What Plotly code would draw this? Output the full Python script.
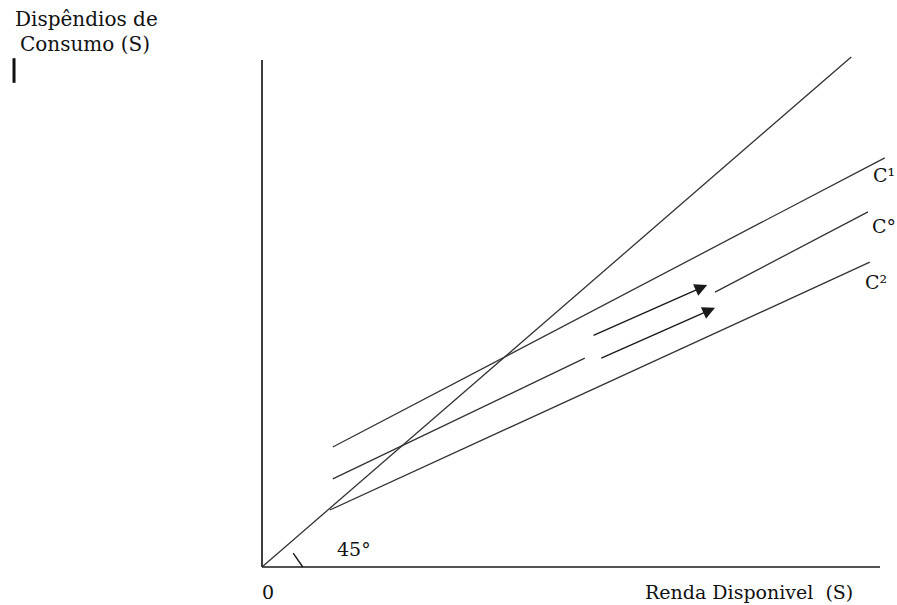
import plotly.graph_objects as go

# ---- data (arbitrary income / consumption units) ----
axis_x_end = 103.0
axis_y_end = 84.5

line45_x = [0.0, 98.2]
line45_y = [0.0, 85.0]

c1_x = [11.8, 103.8]
c1_y = [20.0, 68.2]

c0a_x = [11.8, 53.8]
c0a_y = [14.7, 34.8]
c0b_x = [75.5, 101.0]
c0b_y = [45.8, 59.2]

c2_x = [11.3, 101.3]
c2_y = [9.5, 50.8]

arrow1_tail = (55.0, 38.5)
arrow1_head = (74.2, 47.0)
arrow2_tail = (56.3, 34.7)
arrow2_head = (75.5, 43.2)

angle_x = [5.2, 6.8]
angle_y = [2.3, 0.0]

cursor_x = [-41.33, -41.33]
cursor_y = [84.8, 80.7]

curve_labels = ["C¹", "C°", "C²"]
curve_label_x = [101.5, 101.33, 100.17]
curve_label_y = [65.3, 56.8, 47.5]

FONT = "DejaVu Serif"
LINE = "#333333"

fig = go.Figure()

def seg(x, y, color=LINE, width=1.3):
    fig.add_trace(go.Scatter(x=x, y=y, mode="lines",
                             line=dict(color=color, width=width),
                             hoverinfo="skip", showlegend=False))

# axes
seg([0, axis_x_end], [0, 0], "#1a1a1a", 1.7)
seg([0, 0], [0, axis_y_end], "#1a1a1a", 1.7)
# 45 degree line
seg(line45_x, line45_y)
# consumption functions
seg(c1_x, c1_y)
seg(c0a_x, c0a_y)
seg(c0b_x, c0b_y)
seg(c2_x, c2_y)
# angle mark
seg(angle_x, angle_y, "#1a1a1a", 1.4)
# text cursor bar
seg(cursor_x, cursor_y, "#111111", 3)

ann = []
for (tx, ty), (hx, hy) in [(arrow1_tail, arrow1_head), (arrow2_tail, arrow2_head)]:
    ann.append(dict(x=hx, y=hy, ax=tx, ay=ty, xref="x", yref="y",
                    axref="x", ayref="y", showarrow=True, text="",
                    arrowhead=2, arrowsize=1.8, arrowwidth=1.4,
                    arrowcolor="#1a1a1a", standoff=0))

def txt(s, x, y, size=20, xanchor="left"):
    ann.append(dict(x=x, y=y, xref="x", yref="y", text=s, showarrow=False,
                    xanchor=xanchor, yanchor="middle",
                    font=dict(family=FONT, size=size, color="#111111")))

txt("Dispêndios de", -41.5, 91.3)
txt("Consumo (S)", -40.67, 87.17)
txt("45°", 15.4, 3.0, 19, "center")
txt("0", 1.08, -4.17, 19, "center")
txt("Renda Disponivel\u00a0 (S)", 63.5, -4.17, 19)
for s, x, y in zip(curve_labels, curve_label_x, curve_label_y):
    txt(s, x, y, 19)

fig.update_layout(
    width=897, height=605,
    margin=dict(l=0, r=0, t=0, b=0),
    paper_bgcolor="white", plot_bgcolor="white",
    xaxis=dict(range=[-262 / 6, 635 / 6], visible=False, fixedrange=True),
    yaxis=dict(range=[-38 / 6, 567 / 6], visible=False, fixedrange=True),
    annotations=ann,
    showlegend=False,
)

fig.write_html("out.html", config={"displayModeBar": False},
               post_script="document.body.style.margin='0';document.body.style.overflow='hidden';")
